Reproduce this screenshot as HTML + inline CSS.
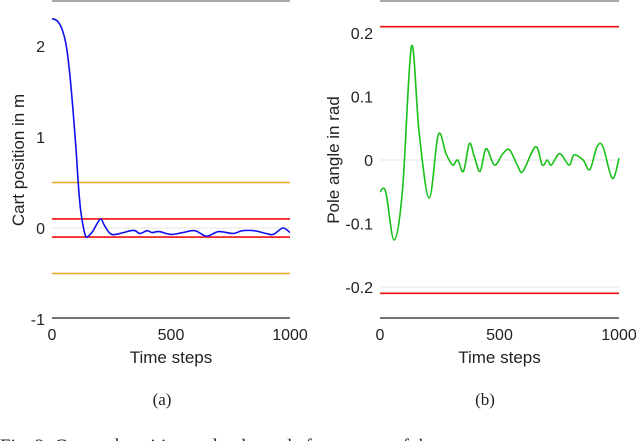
<!DOCTYPE html>
<html><head><meta charset="utf-8">
<style>
html,body{margin:0;padding:0;background:#fff;width:640px;height:441px;overflow:hidden}
svg{display:block}
text{font-family:"Liberation Sans",sans-serif;fill:#222}
</style></head>
<body>
<svg id="fig" width="640" height="441" viewBox="0 0 640 441">
  <g id="left"></g>
  <g id="right"></g>
  <text x="162" y="405" font-size="17" text-anchor="middle" style="font-family:'Liberation Serif',serif">(a)</text>
  <text x="485" y="405" font-size="17" text-anchor="middle" style="font-family:'Liberation Serif',serif">(b)</text>
  <text x="0" y="452" font-size="19" style="font-family:'Liberation Serif',serif">Fig. 2: Cart and position and pole angle for a successful run</text>
</svg>
<script>
const xTicks=[0,500,1000];
const cartT=[0,20,40,60,80,100,110,120,135,146,170,190,206,220,250,300,330,350,370,400,420,450,500,550,600,650,700,760,800,850,900,930,970,1000];
const cartV=[2.3,2.28,2.2,2.0,1.55,0.9,0.5,0.2,-0.03,-0.1,-0.04,0.05,0.1,0.03,-0.07,-0.05,-0.03,-0.03,-0.06,-0.03,-0.05,-0.04,-0.07,-0.05,-0.03,-0.09,-0.04,-0.06,-0.03,-0.03,-0.06,-0.07,0,-0.05];
const cartTicks=[-1,0,1,2];
const cartBounds=[0.5,-0.5];
const cartLimits=[0.1,-0.1];
const poleT=[0,24,59,94,132,164,206,244,276,304,325,349,374,395,419,444,479,514,542,577,598,651,679,700,717,752,791,812,850,878,908,933,972,1000];
const poleV=[-0.05,-0.05,-0.126,-0.047,0.179,0.042,-0.06,0.04,0.01,-0.008,0,-0.018,0.026,0.005,-0.018,0.018,-0.008,0.01,0.016,-0.01,-0.018,0.021,-0.008,0,-0.008,0.01,-0.008,0.008,0,-0.015,0.021,0.021,-0.029,0.003];
const poleTicks=[-0.2,-0.1,0,0.1,0.2];
const poleLimits=[0.21,-0.21];
const NS='http://www.w3.org/2000/svg';
function mk(p,tag,a){const e=document.createElementNS(NS,tag);for(const k in a)e.setAttribute(k,a[k]);p.appendChild(e);return e;}
function smooth(P){
  let d='M'+P[0][0].toFixed(1)+','+P[0][1].toFixed(1);
  for(let i=0;i<P.length-1;i++){
    const p0=P[Math.max(0,i-1)],p1=P[i],p2=P[i+1],p3=P[Math.min(P.length-1,i+2)];
    const c1=[p1[0]+(p2[0]-p0[0])/6,p1[1]+(p2[1]-p0[1])/6];
    const c2=[p2[0]-(p3[0]-p1[0])/6,p2[1]-(p3[1]-p1[1])/6];
    d+=` C${c1[0].toFixed(1)},${c1[1].toFixed(1)} ${c2[0].toFixed(1)},${c2[1].toFixed(1)} ${p2[0].toFixed(1)},${p2[1].toFixed(1)}`;
  }
  return d;
}
function chart(g,o){
  const x=t=>o.x0+(t-0)/1000*(o.x1-o.x0);
  const y=v=>o.yZero-v*o.ppu;
  let e=mk(g,'line',{x1:o.x0,x2:o.x1,y1:1,y2:1,stroke:'#777','stroke-width':1.2});
  
  
  e=mk(g,'line',{x1:o.x0,x2:o.x1,y1:318,y2:318,stroke:'#222','stroke-width':1.2});
  
  
  o.grid.forEach(v=>{e=mk(g,'line',{x1:o.x0,x2:o.x1,y1:y(v),y2:y(v),stroke:'#e4e4e4','stroke-width':1});
    
    });
  o.ticks.forEach(v=>{e=mk(g,'text',{x:o.x0-7,y:y(v)+6,'font-size':16,'text-anchor':'end'});e.textContent=o.fmt(v);
    
    });
  xTicks.forEach(t=>{e=mk(g,'text',{x:x(t),y:340,'font-size':16,'text-anchor':'middle'});e.textContent=t;
    
    });
  e=mk(g,'text',{x:(o.x0+o.x1)/2,y:363,'font-size':17,'text-anchor':'middle'});e.textContent='Time steps';
  
  
  e=mk(g,'text',{x:0,y:0,'font-size':17,'text-anchor':'middle',transform:`translate(${o.ylx},${o.yly}) rotate(-90)`});e.textContent=o.ylabel;
  
  
  o.lines.forEach(L=>L.vals.forEach(v=>{e=mk(g,'line',{x1:o.x0,x2:o.x1,y1:y(v),y2:y(v),stroke:L.c,'stroke-width':1.6});
    
    }));
  const P=o.T.map((t,i)=>[x(t),y(o.V[i])]);
  e=mk(g,'path',{d:smooth(P),fill:'none',stroke:o.color,'stroke-width':1.6,'stroke-linejoin':'round'});
  
  
}
chart(document.getElementById('left'),{x0:52,x1:290,yZero:228,ppu:91,T:cartT,V:cartV,ticks:cartTicks,grid:[0],
  fmt:v=>String(v),ylabel:'Cart position in m',ylx:24,yly:160,color:'#1010ee',
  lines:[{vals:cartBounds,c:'#eaa520',name:'bound-line'},{vals:cartLimits,c:'#ee1111',name:'limit-line'}]});
chart(document.getElementById('right'),{x0:380,x1:619,yZero:160,ppu:635,T:poleT,V:poleV,ticks:poleTicks,grid:[0,-0.2],
  fmt:v=>v===0?'0':v.toFixed(1),ylabel:'Pole angle in rad',ylx:339,yly:160,color:'#18c018',
  lines:[{vals:poleLimits,c:'#ee1111',name:'limit-line'}]});
</script>
</body></html>
